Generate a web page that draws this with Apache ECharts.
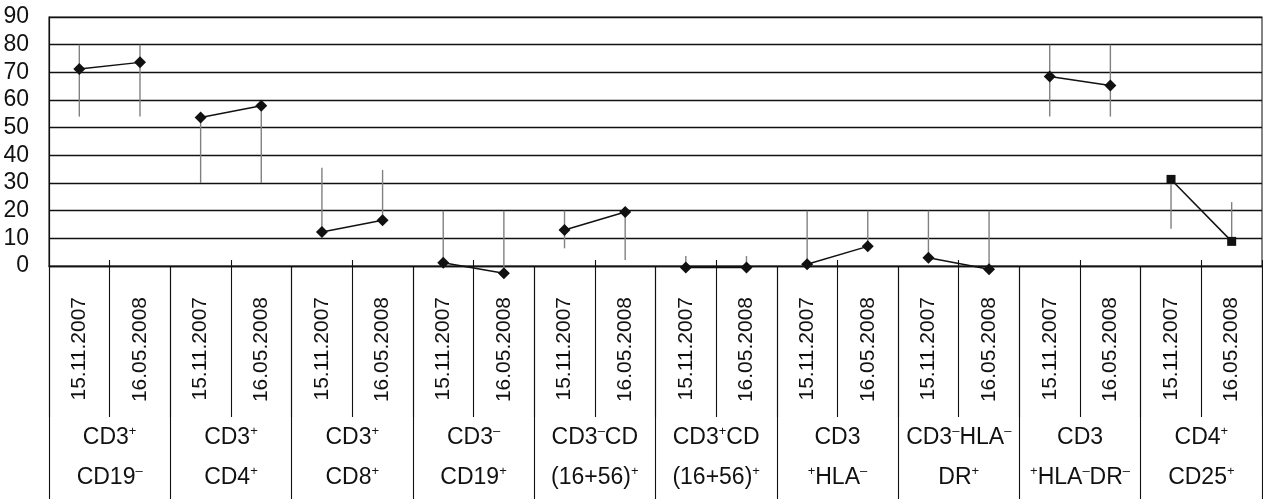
<!DOCTYPE html>
<html><head><meta charset="utf-8">
<script src="https://cdn.jsdelivr.net/npm/echarts@6/dist/echarts.min.js"></script>
<style>html,body{margin:0;padding:0;background:#fff}#c{width:1263px;height:499px}</style>
</head><body><div id="c"></div>
<script>
// ---- data ----
const groupLabels = ['CD3⁺\nCD19⁻', 'CD3⁺\nCD4⁺', 'CD3⁺\nCD8⁺', 'CD3⁻\nCD19⁺', 'CD3⁻CD\n(16+56)⁺',
  'CD3⁺CD\n(16+56)⁺', 'CD3\n⁺HLA⁻', 'CD3⁻HLA⁻\nDR⁺', 'CD3\n⁺HLA⁻DR⁻', 'CD4⁺\nCD25⁺'];
const dates = ['15.11.2007', '16.05.2008'];
const values2007 = [71.2, 53.7, 12.3, 1.2, 13.0, -0.5, 0.6, 3.0, 68.5, 31.3];
const values2008 = [73.6, 57.9, 16.5, -2.6, 19.5, -0.5, 7.1, -1.2, 65.2, 8.9];
const rangeLow  = [54, 54, 30, 30, 12.3, 16.5, 1.2, -2.6, 6.4, 2.2, -0.5, -0.5, 0.6, 7.1, 3.0, -1.2, 54, 54, 13.5, 8.9];
const rangeHigh = [80, 80, 53.7, 57.9, 35.5, 34.7, 20, 20, 20, 20, 3.6, 3.6, 20, 20, 20, 20, 80, 80, 31.3, 23.1];
const yMin = 0, yMax = 90, yStep = 10;

// ---- build ----
const dateCats = [];
groupLabels.forEach(() => dates.forEach(d => dateCats.push(d)));

const FONT = '"Liberation Sans Narrow", "Arial Narrow", "Liberation Sans", Arial, sans-serif';
const REG = '"Liberation Sans", Arial, sans-serif';
const gridRect = { left: 49, top: 17, width: 1213, height: 249 };

const lineSeries = groupLabels.map((g, gi) => {
  const data = dateCats.map(() => '-');
  data[gi * 2] = values2007[gi];
  data[gi * 2 + 1] = values2008[gi];
  return {
    type: 'line', xAxisIndex: 0, yAxisIndex: 0, data,
    symbol: gi === 9 ? 'rect' : 'diamond',
    symbolSize: gi === 9 ? 9 : 12,
    itemStyle: { color: '#111' },
    lineStyle: { color: '#111', width: 1.5 },
    clip: false, z: 5, silent: true, animation: false,
    connectNulls: false
  };
});

const rangeData = dateCats.map((d, i) => [i, rangeLow[i], rangeHigh[i]]);

const option = {
  backgroundColor: '#fff',
  animation: false,
  grid: [
    Object.assign({ show: true, borderColor: '#333', borderWidth: 1.2 }, gridRect),
    Object.assign({ show: false }, gridRect),
    Object.assign({ show: false }, gridRect)
  ],
  xAxis: [
    {
      type: 'category', gridIndex: 0, data: dateCats, position: 'bottom',
      axisLine: { show: true, lineStyle: { color: '#111', width: 1.3 } },
      axisTick: { show: true, length: 151, interval: 0, lineStyle: { color: '#111', width: 1.1 } },
      axisLabel: { interval: 0, rotate: 90, margin: 31, fontSize: 21, fontFamily: REG, color: '#111' },
      splitLine: { show: false }
    },
    {
      type: 'category', gridIndex: 1, data: groupLabels, position: 'bottom',
      axisLine: { show: false },
      axisTick: { show: true, length: 233, interval: 0, lineStyle: { color: '#111', width: 1.1 } },
      axisLabel: {
        interval: 0, margin: 152, fontSize: 23, lineHeight: 40, fontFamily: FONT, color: '#111',
        formatter: s => s.replace(/⁺/g, '{s|+}').replace(/⁻/g, '{s|–}'),
        rich: { s: { fontSize: 13, fontFamily: FONT, color: '#111', verticalAlign: 'middle', padding: [0, 0, 13, 0] } }
      },
      splitLine: { show: false }
    },
    {
      type: 'category', gridIndex: 2, data: dateCats, position: 'bottom',
      axisLine: { show: false },
      axisTick: { show: true, inside: true, length: 6, interval: (i) => i % 2 === 1, lineStyle: { color: '#111', width: 1.1 } },
      axisLabel: { show: false },
      splitLine: { show: false }
    }
  ],
  yAxis: [
    {
      type: 'value', gridIndex: 0, min: yMin, max: yMax, interval: yStep,
      axisLine: { show: true, lineStyle: { color: '#111', width: 1.2 } },
      axisTick: { show: false },
      axisLabel: { margin: 20, fontSize: 23, fontFamily: FONT, color: '#111' },
      splitLine: { show: true, lineStyle: { color: '#111', width: 1.3 } }
    },
    { type: 'value', gridIndex: 1, min: yMin, max: yMax, show: false },
    { type: 'value', gridIndex: 2, min: yMin, max: yMax, show: false }
  ],
  series: [
    {
      type: 'custom', xAxisIndex: 0, yAxisIndex: 0, data: rangeData, clip: false, z: 3, silent: true,
      renderItem: (params, api) => {
        const a = api.coord([api.value(0), api.value(1)]);
        const b = api.coord([api.value(0), api.value(2)]);
        return { type: 'line', shape: { x1: a[0], y1: a[1], x2: b[0], y2: b[1] },
          style: { stroke: '#808080', lineWidth: 1.4 } };
      }
    }
  ].concat(lineSeries)
};
const chart = echarts.init(document.getElementById('c'), null, { renderer: 'canvas' });
chart.setOption(option);
</script></body></html>
